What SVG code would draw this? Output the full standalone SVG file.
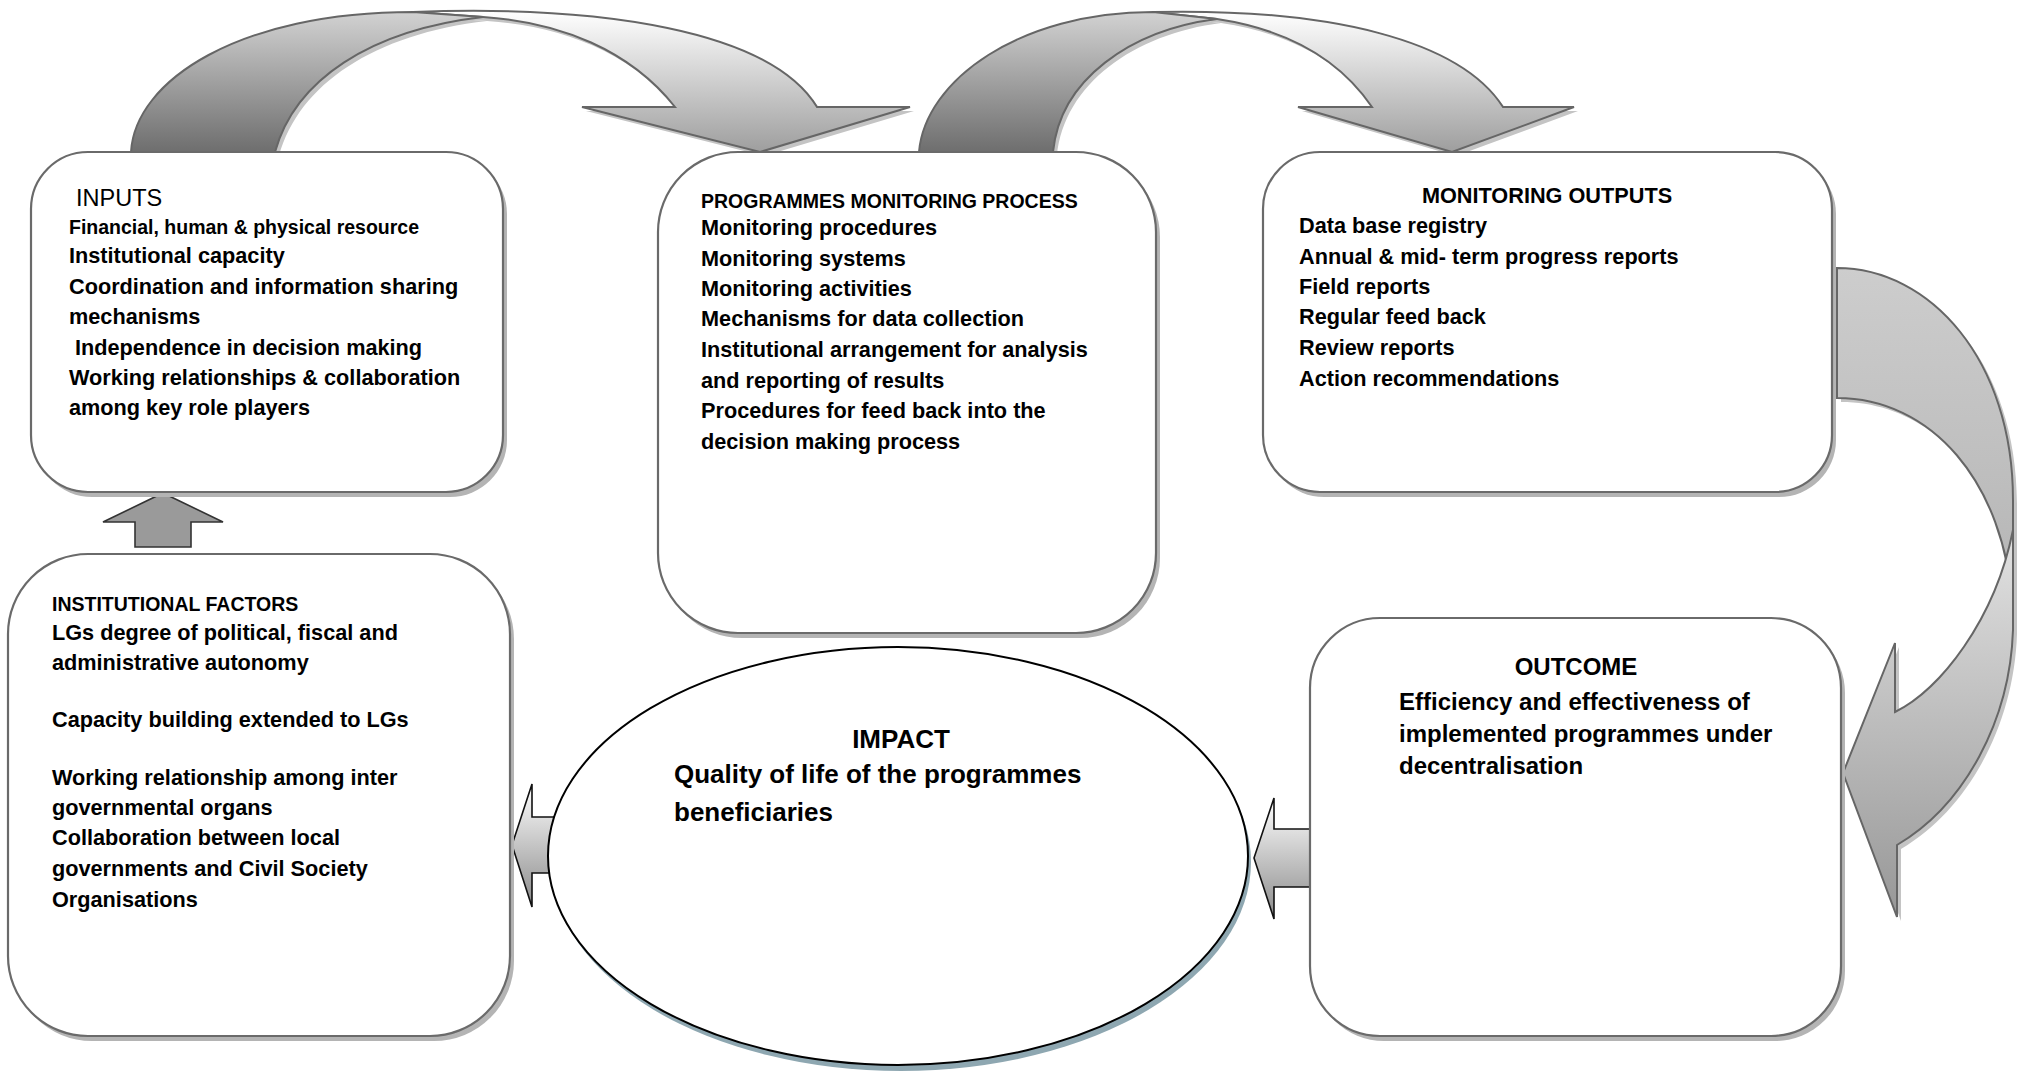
<svg xmlns="http://www.w3.org/2000/svg" xmlns:xlink="http://www.w3.org/1999/xlink" width="2023" height="1071" viewBox="0 0 2023 1071">
<style>
.box{fill:#fff;stroke:#6a6a6a;stroke-width:2.2}
.sh{fill:#b4b4b4}
.ash{fill:#c4c4c4}
.arr{stroke:#666;stroke-width:2}
.blk{stroke:#111;stroke-width:1.6}
text{font-family:"Liberation Sans",Arial,sans-serif;font-weight:bold;font-size:21.7px;fill:#000}
.s{font-size:19.5px}
.m{font-size:24px}
.l{font-size:26px}
.c{text-anchor:middle}
.n{font-weight:normal;font-size:23.5px}
</style>
<defs>
<linearGradient id="gBack" x1="0" y1="0" x2="0" y2="1"><stop offset="0" stop-color="#d2d2d2"/><stop offset="1" stop-color="#6e6e6e"/></linearGradient>
<linearGradient id="gFront" x1="0" y1="0" x2="0" y2="1"><stop offset="0" stop-color="#ffffff"/><stop offset="1" stop-color="#9e9e9e"/></linearGradient>
<linearGradient id="g3Back" x1="0" y1="0" x2="0" y2="1"><stop offset="0" stop-color="#cdcdcd"/><stop offset="1" stop-color="#b4b4b4"/></linearGradient>
<linearGradient id="g3Front" x1="0" y1="0" x2="0" y2="1"><stop offset="0" stop-color="#e2e2e2"/><stop offset="1" stop-color="#979797"/></linearGradient>
<linearGradient id="gBlock" x1="0" y1="0" x2="0" y2="1"><stop offset="0" stop-color="#ffffff"/><stop offset="1" stop-color="#8a8a8a"/></linearGradient>
<path id="a1b" d="M131,152 C135,80 240,12 413,12 L483,17 C370,30 295,80 275,152 Z"/>
<path id="a1f" d="M413,12 C600,5 770,30 817,107 L910,107 L760,152 L582,107 L675,107 C630,50 560,22 483,17 Z"/>
<path id="a2b" d="M919,152 C925,80 1020,12 1153,12 L1217,19 C1130,30 1060,80 1053,152 Z"/>
<path id="a2f" d="M1153,12 C1330,8 1460,40 1503,107 L1574,107 L1452,152 L1298,107 L1372,107 C1340,60 1290,30 1217,19 Z"/>
<path id="a3b" d="M1837,268 C1930,268 2013,360 2013,500 L2013,610 C2005,480 1930,398 1837,398 Z"/>
<path id="a3f" d="M2013,530 L2013,630 C2010,720 1965,805 1897,845 L1897,917 L1843,773 L1895,643 L1895,712 C1940,690 1995,620 2013,530 Z"/>
</defs>

<g id="connectors">
  <g id="arrow-inputs-process">
    <use xlink:href="#a1f" class="ash" transform="translate(4,4)"/>
    <use xlink:href="#a1b" class="ash" transform="translate(4,4)"/>
    <use xlink:href="#a1f" class="arr" fill="url(#gFront)"/>
    <use xlink:href="#a1b" class="arr" fill="url(#gBack)"/>
  </g>
  <g id="arrow-process-outputs">
    <use xlink:href="#a2f" class="ash" transform="translate(4,4)"/>
    <use xlink:href="#a2b" class="ash" transform="translate(4,4)"/>
    <use xlink:href="#a2f" class="arr" fill="url(#gFront)"/>
    <use xlink:href="#a2b" class="arr" fill="url(#gBack)"/>
  </g>
  <g id="arrow-outputs-outcome">
    <use xlink:href="#a3b" class="ash" transform="translate(4,4)"/>
    <use xlink:href="#a3f" class="ash" transform="translate(4,4)"/>
    <use xlink:href="#a3b" class="arr" fill="url(#g3Back)"/>
    <use xlink:href="#a3f" class="arr" fill="url(#g3Front)"/>
  </g>
  <g id="arrow-factors-inputs">
    <path d="M163,493 L223,522 L191,522 L191,547 L135,547 L135,522 L103,522 Z" fill="#9a9a9a" stroke="#333" stroke-width="1.6"/>
  </g>
  <g id="arrow-impact-factors">
    <path d="M512,845 L532,784 L532,817 L590,817 L590,873 L532,873 L532,907 Z" class="blk" fill="url(#gBlock)"/>
  </g>
  <g id="arrow-outcome-impact">
    <path d="M1254,858 L1274,798 L1274,829 L1333,829 L1333,887 L1274,887 L1274,919 Z" class="blk" fill="url(#gBlock)"/>
  </g>
</g>

<g id="inputs">
  <rect x="35" y="157" width="472" height="340" rx="57" class="sh"/>
  <rect x="31" y="152" width="472" height="340" rx="57" class="box"/>
  <text x="76" y="206" class="n">INPUTS</text>
  <text x="69" y="234" class="s">Financial, human &amp; physical resource</text>
  <text x="69" y="263">Institutional capacity</text>
  <text x="69" y="294">Coordination and information sharing</text>
  <text x="69" y="324">mechanisms</text>
  <text x="75" y="355">Independence in decision making</text>
  <text x="69" y="385">Working relationships &amp; collaboration</text>
  <text x="69" y="415">among key role players</text>
</g>

<g id="process">
  <rect x="662" y="157" width="498" height="481" rx="80" class="sh"/>
  <rect x="658" y="152" width="498" height="481" rx="80" class="box"/>
  <text x="701" y="208" class="s">PROGRAMMES MONITORING PROCESS</text>
  <text x="701" y="235">Monitoring procedures</text>
  <text x="701" y="266">Monitoring systems</text>
  <text x="701" y="296">Monitoring activities</text>
  <text x="701" y="326">Mechanisms for data collection</text>
  <text x="701" y="357">Institutional arrangement for analysis</text>
  <text x="701" y="388">and reporting of results</text>
  <text x="701" y="418">Procedures for feed back into the</text>
  <text x="701" y="449">decision making process</text>
</g>

<g id="outputs">
  <rect x="1267" y="157" width="569" height="340" rx="57" class="sh"/>
  <rect x="1263" y="152" width="569" height="340" rx="57" class="box"/>
  <text x="1547" y="203" class="c">MONITORING OUTPUTS</text>
  <text x="1299" y="233">Data base registry</text>
  <text x="1299" y="264">Annual &amp; mid- term progress reports</text>
  <text x="1299" y="294">Field reports</text>
  <text x="1299" y="324">Regular feed back</text>
  <text x="1299" y="355">Review reports</text>
  <text x="1299" y="386">Action recommendations</text>
</g>

<g id="factors">
  <rect x="12" y="559" width="502" height="482" rx="80" class="sh"/>
  <rect x="8" y="554" width="502" height="482" rx="80" class="box"/>
  <text x="52" y="611" class="s">INSTITUTIONAL FACTORS</text>
  <text x="52" y="640">LGs degree of political, fiscal and</text>
  <text x="52" y="670">administrative autonomy</text>
  <text x="52" y="727">Capacity building extended to LGs</text>
  <text x="52" y="785">Working relationship among inter</text>
  <text x="52" y="815">governmental organs</text>
  <text x="52" y="845">Collaboration between local</text>
  <text x="52" y="876">governments and Civil Society</text>
  <text x="52" y="907">Organisations</text>
</g>

<g id="outcome">
  <rect x="1314" y="623" width="531" height="418" rx="70" class="sh"/>
  <rect x="1310" y="618" width="531" height="418" rx="70" class="box"/>
  <text x="1576" y="675" class="m c">OUTCOME</text>
  <text x="1399" y="710" class="m">Efficiency and effectiveness of</text>
  <text x="1399" y="742" class="m">implemented programmes under</text>
  <text x="1399" y="774" class="m">decentralisation</text>
</g>

<g id="impact">
  <ellipse cx="901" cy="862" rx="350" ry="209" fill="#8ea7b1"/>
  <ellipse cx="898" cy="856" rx="350" ry="209" fill="#fff" stroke="#000" stroke-width="2"/>
  <text x="901" y="748" class="l c">IMPACT</text>
  <text x="674" y="783" class="l">Quality of life of the programmes</text>
  <text x="674" y="821" class="l">beneficiaries</text>
</g>
</svg>
